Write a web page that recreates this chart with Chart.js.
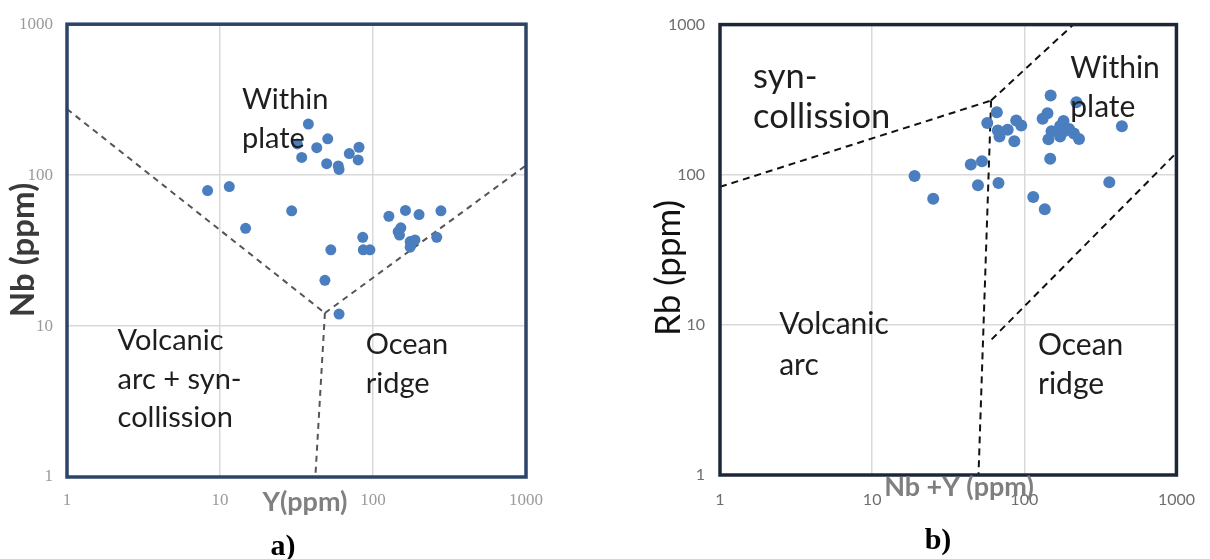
<!DOCTYPE html>
<html>
<head>
<meta charset="utf-8">
<script src="https://cdn.jsdelivr.net/npm/chart.js@4.4.1/dist/chart.umd.min.js"></script>
<style>
  body { margin: 0; background: #fff; }
  .panel { position: absolute; top: 0; width: 605px; height: 559px; }
  #panelA { left: 0; }
  #panelB { left: 605px; }
</style>
</head>
<body>
<div class="panel" id="panelA"><canvas id="chartA"></canvas></div>
<div class="panel" id="panelB"><canvas id="chartB"></canvas></div>
<script>
Chart.defaults.font.family = "Lato";

const decadeTicks = [1, 10, 100, 1000];
const tickLabels = ["1", "10", "100", "1000"];

// a) Y (ppm) against Nb (ppm)
const yValuesA = [37.8, 32, 50.6, 42.9, 34.2, 49.8, 59.3, 60, 70, 81, 80, 8.3, 11.5, 14.7, 29.4, 53,
  48.5, 60, 85.7, 86.4, 95.5, 127, 163, 200, 278, 152, 146, 149, 175, 188, 175, 261];
const nbValuesA = [218, 161, 174, 152, 131, 119, 115, 109, 139, 153, 126, 79, 84, 44.4, 58, 32,
  20.1, 12, 38.7, 32, 32, 53.4, 58.4, 54.8, 58, 44.8, 42.2, 40.1, 36.3, 37.2, 33.3, 38.7];

// a) field boundaries
const wpgLineXA = [1, 48.5];
const wpgLineYA = [274, 12.2];
const orgLineXA = [48.5, 1000];
const orgLineYA = [12.2, 116];
const vagLineXA = [48.5, 42];
const vagLineYA = [12.2, 1];

// b) Nb+Y (ppm) against Rb (ppm)
const nbyValuesB = [149, 220, 66, 142, 132, 57.1, 88.5, 95.5, 77.8, 67, 68.7, 86, 181, 172, 151, 183,
  172, 144, 212, 229, 438, 148, 19, 25.2, 44.5, 52.7, 49.6, 67.7, 114.5, 136.4, 362, 197];
const rbValuesB = [337, 304, 261, 257, 236, 221, 230, 213, 199, 197, 180, 167, 228, 211, 195, 195,
  180, 172, 188, 173, 210, 128, 98, 69.3, 117, 123, 85, 88, 71, 58.8, 89, 202];

// b) field boundaries
const synLineXB = [1, 60.5];
const synLineYB = [83, 312];
const wpgLineXB = [60.5, 210];
const wpgLineYB = [312, 1000];
const vagLineXB = [60.5, 50];
const vagLineYB = [312, 1];
const orgLineXB = [61, 1000];
const orgLineYB = [8, 140];

function toPoints(xs, ys) {
  return xs.map((x, i) => ({ x: x, y: ys[i] }));
}

function boundary(xs, ys, color, dash) {
  return {
    data: toPoints(xs, ys),
    showLine: true,
    pointRadius: 0,
    borderColor: color,
    borderWidth: 2,
    borderDash: dash,
    fill: false,
  };
}

function logAxis(size, tickFont, tickColor, tickPad) {
  return {
    type: "logarithmic",
    min: 1,
    max: 1000,
    afterBuildTicks: (s) => {
      s.ticks = decadeTicks.map((v) => ({ value: v }));
    },
    afterFit: (s) => {
      if (s.isHorizontal()) s.height = size;
      else s.width = size;
    },
    ticks: {
      callback: (v, i) => tickLabels[i],
      font: tickFont,
      color: tickColor,
      padding: tickPad,
      autoSkip: false,
      maxRotation: 0,
    },
    grid: { color: "#d9d9d9", lineWidth: 1.5, drawTicks: false },
    border: { display: false },
  };
}

// thick frame around the plot area
function frameBox(color, width) {
  return {
    id: "frameBox",
    afterDatasetsDraw(chart) {
      const { ctx, chartArea } = chart;
      ctx.save();
      ctx.strokeStyle = color;
      ctx.lineWidth = width;
      ctx.strokeRect(chartArea.left, chartArea.top, chartArea.right - chartArea.left, chartArea.bottom - chartArea.top);
      ctx.restore();
    },
  };
}

// field names (placed in data space) plus axis titles and panel letter
function panelText(zones, zoneFont, titles) {
  return {
    id: "panelText",
    afterDraw(chart) {
      const ctx = chart.ctx;
      const sx = chart.scales.x;
      const sy = chart.scales.y;
      ctx.save();
      ctx.textBaseline = "middle";
      ctx.textAlign = "left";
      ctx.fillStyle = "#1e1e1e";
      for (const z of zones) {
        const px = sx.getPixelForValue(z.x);
        const py = sy.getPixelForValue(z.y);
        ctx.font = z.font || zoneFont;
        z.lines.forEach((line, i) => ctx.fillText(line, px, py + i * z.lineHeight));
      }
      ctx.textAlign = "center";
      for (const t of titles) {
        ctx.save();
        ctx.translate(t.x, t.y);
        if (t.rotate) ctx.rotate(-Math.PI / 2);
        ctx.font = t.font;
        ctx.fillStyle = t.color;
        ctx.fillText(t.text, 0, 0);
        ctx.restore();
      }
      ctx.restore();
    },
  };
}

const dotColor = "#4a7ebf";

new Chart(document.getElementById("chartA"), {
  type: "scatter",
  data: {
    datasets: [
      { data: toPoints(yValuesA, nbValuesA), backgroundColor: dotColor, pointRadius: 5.5, borderWidth: 0 },
      boundary(wpgLineXA, wpgLineYA, "#555555", [6, 5]),
      boundary(orgLineXA, orgLineYA, "#555555", [6, 5]),
      boundary(vagLineXA, vagLineYA, "#555555", [6, 5]),
    ],
  },
  options: {
    responsive: true,
    maintainAspectRatio: false,
    animation: false,
    layout: { padding: { top: 18, right: 79, left: 0, bottom: 0 } },
    scales: {
      x: logAxis(82, { family: "Liberation Serif", size: 17 }, "#9a9a9a", 13),
      y: logAxis(67, { family: "Liberation Serif", size: 17 }, "#9a9a9a", 14),
    },
    plugins: { legend: { display: false }, tooltip: { enabled: false } },
  },
  plugins: [
    frameBox("#2b4468", 3.5),
    panelText(
      [
        { lines: ["Within", "plate"], x: 13.9, y: 314, lineHeight: 38.5 },
        { lines: ["Volcanic", "arc + syn-", "collission"], x: 2.14, y: 7.98, lineHeight: 38.5 },
        { lines: ["Ocean", "ridge"], x: 89.5, y: 7.51, lineHeight: 38.5 },
      ],
      "29px Lato",
      [
        { text: "Nb (ppm)", x: 23, y: 250, rotate: true, font: "bold 33px Lato", color: "#3a3a3a" },
        { text: "Y(ppm)", x: 305, y: 502, font: "bold 27px Lato", color: "#808080" },
        { text: "a)", x: 283, y: 547, font: "bold 30px 'Liberation Serif'", color: "#000000" },
      ]
    ),
  ],
});

new Chart(document.getElementById("chartB"), {
  type: "scatter",
  data: {
    datasets: [
      { data: toPoints(nbyValuesB, rbValuesB), backgroundColor: dotColor, pointRadius: 6, borderWidth: 0 },
      boundary(synLineXB, synLineYB, "#111111", [7, 5]),
      boundary(wpgLineXB, wpgLineYB, "#111111", [7, 5]),
      boundary(vagLineXB, vagLineYB, "#111111", [7, 5]),
      boundary(orgLineXB, orgLineYB, "#111111", [7, 5]),
    ],
  },
  options: {
    responsive: true,
    maintainAspectRatio: false,
    animation: false,
    layout: { padding: { top: 24, right: 30, left: 0, bottom: 0 } },
    scales: {
      x: logAxis(84, { size: 16 }, "#6e6e6e", 15),
      y: logAxis(115, { size: 16 }, "#6e6e6e", 15),
    },
    plugins: { legend: { display: false }, tooltip: { enabled: false } },
  },
  plugins: [
    frameBox("#1c2838", 3.5),
    panelText(
      [
        { lines: ["syn-", "collission"], x: 1.65, y: 448, lineHeight: 40, font: "34.5px Lato" },
        { lines: ["Within", "plate"], x: 200.5, y: 513, lineHeight: 39.5 },
        { lines: ["Volcanic", "arc"], x: 2.45, y: 10.1, lineHeight: 41 },
        { lines: ["Ocean", "ridge"], x: 123, y: 7.3, lineHeight: 39 },
      ],
      "30px Lato",
      [
        { text: "Rb (ppm)", x: 64, y: 268, rotate: true, font: "35px Lato", color: "#111111" },
        { text: "Nb +Y (ppm)", x: 354, y: 487, font: "bold 27px Lato", color: "#7f7f7f" },
        { text: "b)", x: 333, y: 541, font: "bold 30px 'Liberation Serif'", color: "#000000" },
      ]
    ),
  ],
});
</script>
</body>
</html>
